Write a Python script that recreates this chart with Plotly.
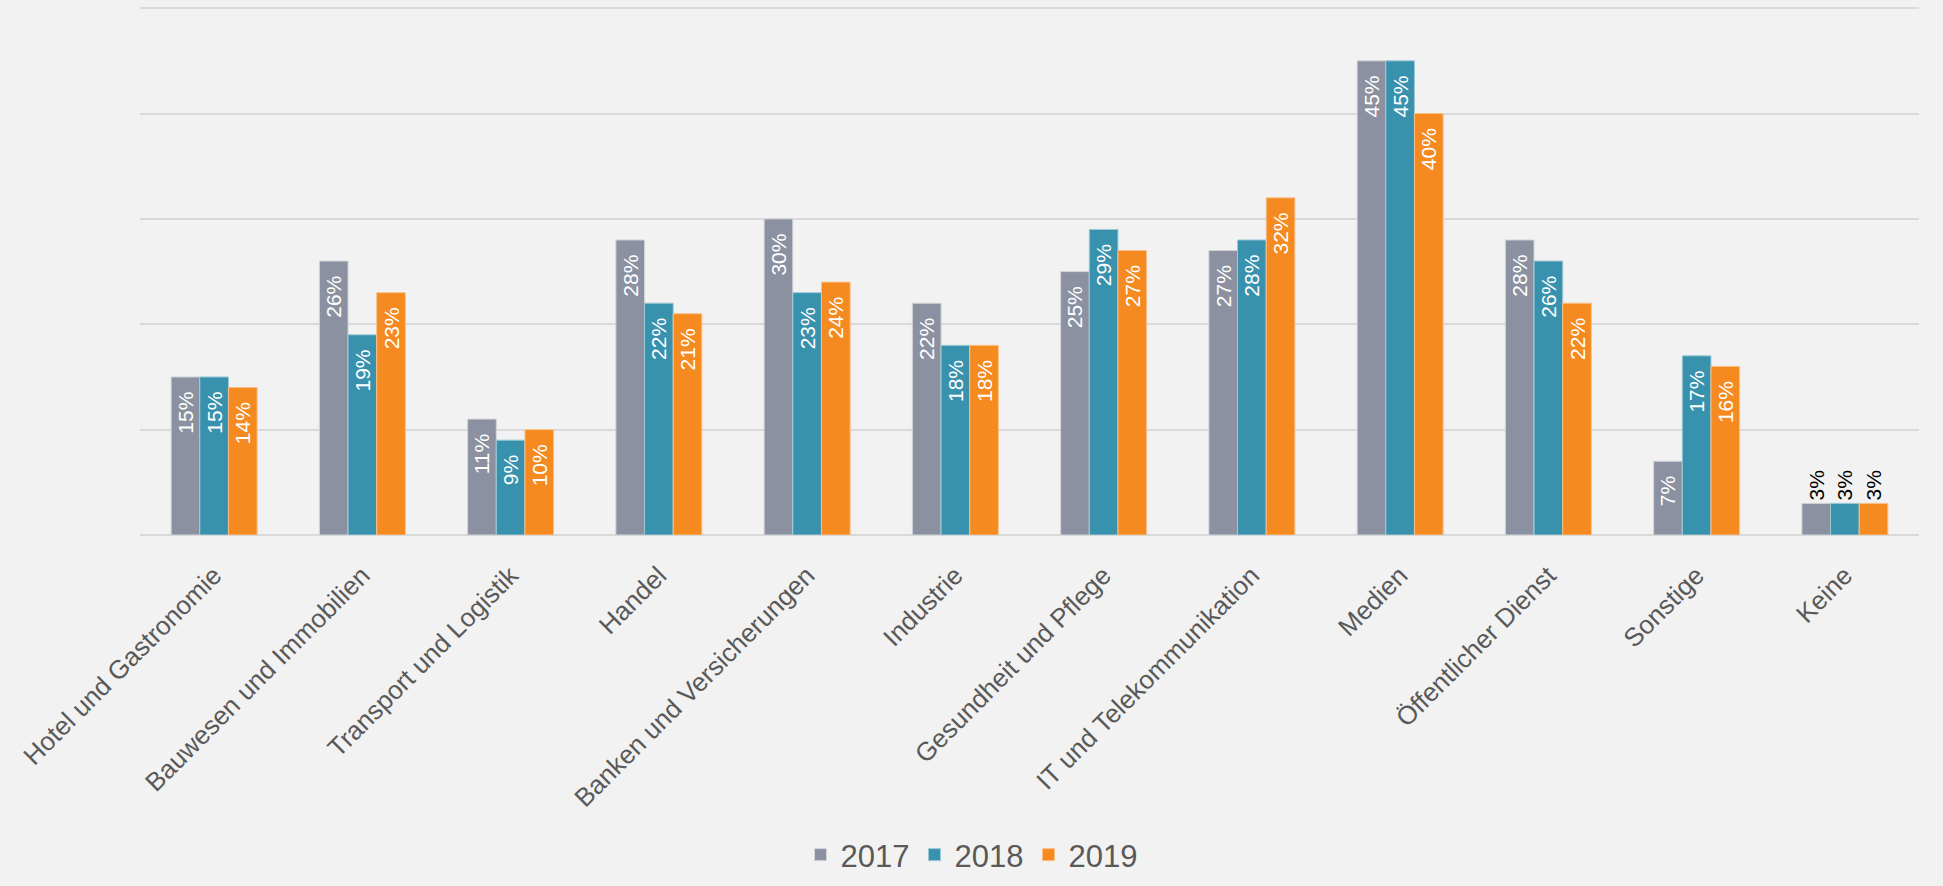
import plotly.graph_objects as go

categories = ["Hotel und Gastronomie", "Bauwesen und Immobilien", "Transport und Logistik",
              "Handel", "Banken und Versicherungen", "Industrie", "Gesundheit und Pflege",
              "IT und Telekommunikation", "Medien", "Öffentlicher Dienst", "Sonstige", "Keine"]
years = ["2017", "2018", "2019"]
v2017 = [15, 26, 11, 28, 30, 22, 25, 27, 45, 28, 7, 3]
v2018 = [15, 19, 9, 22, 23, 18, 29, 28, 45, 26, 17, 3]
v2019 = [14, 23, 10, 21, 24, 18, 27, 32, 40, 22, 16, 3]
colors = ["#8B91A0", "#3891AD", "#F58A20"]
border = ["#D2D4DA", "#9CC9D6", "#F9C08A"]

fig = go.Figure()
for name, vals, col, bcol in zip(years, [v2017, v2018, v2019], colors, border):
    pos = ["outside" if c == "Keine" else "inside" for c in categories]
    tcol = ["black" if c == "Keine" else "white" for c in categories]
    labels = [f"{v}%" if c == "Keine" else f"{v}%\u00a0\u00a0" for v, c in zip(vals, categories)]
    fig.add_trace(go.Bar(
        name=name, x=categories, y=vals,
        marker=dict(color=col, line=dict(color=bcol, width=1)),
        text=labels,
        textposition=pos, textangle=-90, insidetextanchor="end",
        constraintext="none",
        textfont=dict(size=21, color=tcol, family="Arial, Liberation Sans"),
        cliponaxis=False,
    ))

fig.update_layout(
    width=1943, height=886,
    paper_bgcolor="#F2F2F2", plot_bgcolor="#F2F2F2",
    barmode="group", bargap=0.42, bargroupgap=0,
    margin=dict(l=140, r=24, t=5, b=351),
    font=dict(family="Arial, Liberation Sans", color="#595959"),
    legend=dict(orientation="h", xref="container", yref="container",
                x=0.5, xanchor="center", y=0.035, yanchor="middle",
                font=dict(size=31, color="#595959"), traceorder="normal"),
    showlegend=True,
)
fig.update_yaxes(range=[0, 50.3], tickvals=[0, 10, 20, 30, 40, 50], showticklabels=False,
                 gridcolor="#D9D9D9", gridwidth=2, zeroline=True, zerolinecolor="#D9D9D9",
                 zerolinewidth=2, showline=False)
fig.update_xaxes(tickangle=-45, tickfont=dict(size=26, color="#595959"),
                 ticks="outside", ticklen=14, tickcolor="rgba(0,0,0,0)", showline=False)

fig.write_html("out.html", config={"displayModeBar": False},
               post_script="document.body.style.margin='0';document.body.style.overflow='hidden';")
